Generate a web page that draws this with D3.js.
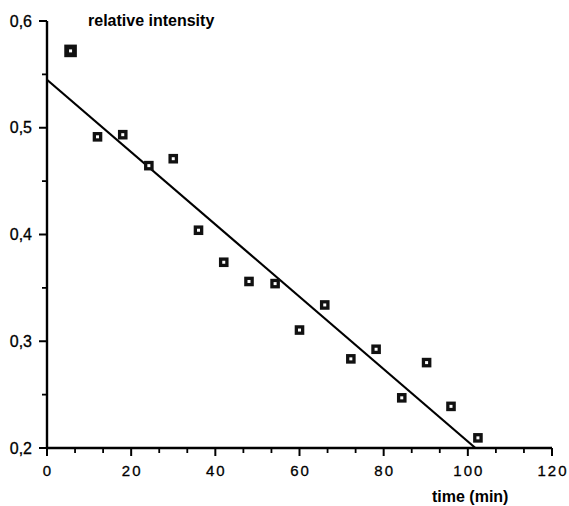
<!DOCTYPE html>
<html><head><meta charset="utf-8">
<script src="https://cdn.jsdelivr.net/npm/d3@7"></script>
<style>body{margin:0;background:#fff}svg{display:block}</style>
</head><body><svg id="c" width="569" height="506"></svg>
<script>
const timeMin = [5.6, 12, 18, 24.2, 30, 36, 42, 48, 54.2, 60, 66, 72.2, 78.2, 84.3, 90.2, 96, 102.4];
const intensity = [0.572, 0.4915, 0.4935, 0.4645, 0.471, 0.404, 0.374, 0.356, 0.354, 0.3105, 0.334, 0.2835, 0.2925, 0.247, 0.280, 0.239, 0.2095];
const fitX = [0, 101.8];
const fitY = [0.545, 0.2];
const xTicks = [0, 20, 40, 60, 80, 100, 120];
const yTicks = [0.2, 0.3, 0.4, 0.5, 0.6];
const yLabel = "relative intensity";
const xLabel = "time (min)";

const svg = d3.select("#c");
const x = d3.scaleLinear().domain([0, 120]).range([47, 552]);
const y = d3.scaleLinear().domain([0.2, 0.6]).range([448, 21]);
const font = "Arial, 'Liberation Sans', sans-serif";

// x axis
const xMinor = d3.range(0, 121, 20/3).filter(v => Math.abs(v/20 - Math.round(v/20)) > 0.01);
const gx = svg.append("g").attr("transform", "translate(0,448)");
gx.append("line").attr("x1", x(0)).attr("x2", x(120)).attr("stroke", "#000").attr("stroke-width", 2.4);
gx.selectAll(".mj").data(xTicks).join("line").attr("x1", d => x(d)).attr("x2", d => x(d)).attr("y1", 0).attr("y2", 8).attr("stroke", "#000").attr("stroke-width", 2);
gx.selectAll(".mn").data(xMinor).join("line").attr("x1", d => x(d)).attr("x2", d => x(d)).attr("y1", 0).attr("y2", 5).attr("stroke", "#000").attr("stroke-width", 1.8);
gx.selectAll("text").data(xTicks).join("text").attr("x", d => x(d) + 1).attr("y", 28).attr("text-anchor", "middle")
  .attr("font-family", font).attr("font-size", 15).attr("letter-spacing", 2).attr("stroke", "#000").attr("stroke-width", 0.3)
  .text(d => d3.format("d")(d));

// y axis
const yMinor = [0.25, 0.35, 0.45, 0.55];
const gy = svg.append("g").attr("transform", "translate(47,0)");
gy.append("line").attr("y1", y(0.2)).attr("y2", y(0.6)).attr("stroke", "#000").attr("stroke-width", 2.4);
gy.selectAll(".mj").data(yTicks).join("line").attr("x1", -8).attr("x2", 0).attr("y1", d => y(d)).attr("y2", d => y(d)).attr("stroke", "#000").attr("stroke-width", 2);
gy.selectAll(".mn").data(yMinor).join("line").attr("x1", -5).attr("x2", 0).attr("y1", d => y(d)).attr("y2", d => y(d)).attr("stroke", "#000").attr("stroke-width", 1.8);
gy.selectAll("text").data(yTicks).join("text").attr("x", -15).attr("y", d => y(d) + 5.5).attr("text-anchor", "end")
  .attr("font-family", font).attr("font-size", 16).attr("stroke", "#000").attr("stroke-width", 0.3)
  .text(d => d3.format(".1f")(d).replace(".", ","));

// fit line
svg.append("path").datum(fitX.map((v, i) => [v, fitY[i]]))
  .attr("d", d3.line().x(d => x(d[0])).y(d => y(d[1])))
  .attr("fill", "none").attr("stroke", "#000").attr("stroke-width", 2.2);

// points
const pts = svg.selectAll(".pt").data(timeMin.map((t, i) => ({t, v: intensity[i], i}))).join("g")
  .attr("transform", d => `translate(${x(d.t)},${y(d.v)})`);
pts.append("rect").attr("x", d => d.i === 0 ? -6.3 : -4.8).attr("y", d => d.i === 0 ? -6.3 : -4.8)
  .attr("width", d => d.i === 0 ? 12.6 : 9.6).attr("height", d => d.i === 0 ? 12.6 : 9.6).attr("fill", "#111");
pts.append("rect").attr("x", -1.5).attr("y", -1.5).attr("width", 3).attr("height", 3)
  .attr("fill", "#fff");

// labels
svg.append("text").attr("x", 88).attr("y", 26).attr("font-family", font).attr("font-weight", "bold").attr("font-size", 16).text(yLabel);
svg.append("text").attr("x", 432).attr("y", 502).attr("font-family", font).attr("font-weight", "bold").attr("font-size", 16).text(xLabel);
</script></body></html>
